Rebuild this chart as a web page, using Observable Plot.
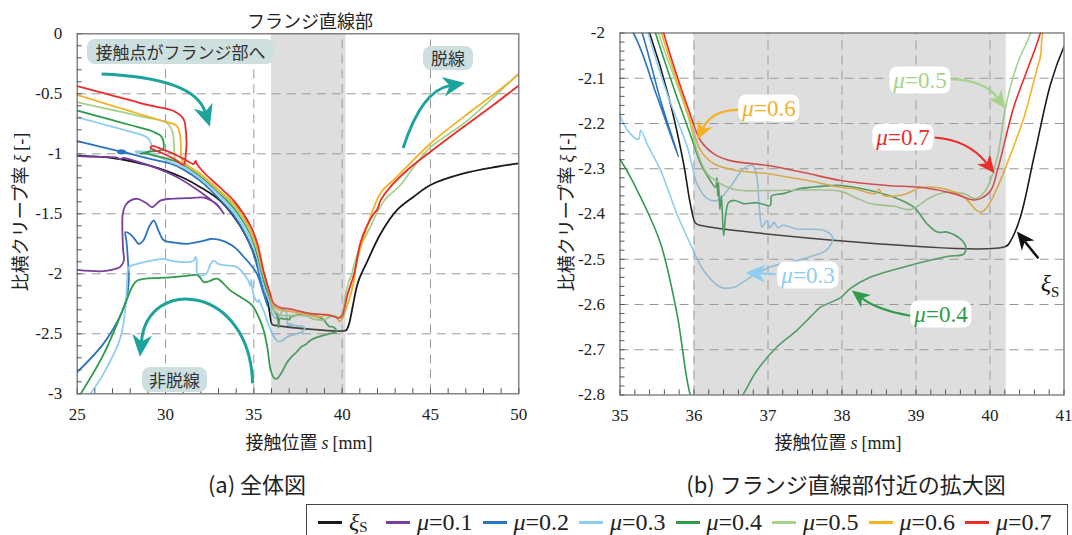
<!DOCTYPE html>
<html><head><meta charset="utf-8">
<script src="https://cdn.jsdelivr.net/npm/d3@7"></script>
<script src="https://cdn.jsdelivr.net/npm/@observablehq/plot@0.6"></script>
<style>
body{margin:0;background:#fff;}
#wrap{position:relative;width:1072px;height:535px;overflow:hidden;font-family:"Noto Sans CJK JP","Noto Sans",sans-serif;color:#222;}
#wrap svg{position:absolute;top:0;}
.abs{position:absolute;white-space:nowrap;}
.c{transform:translate(-50%,-50%);}
.ser{font-family:"Liberation Serif","Times New Roman",serif;}
.it{font-family:"Liberation Serif","Times New Roman",serif;font-style:italic;}
.note{position:absolute;background:#cddfde;border-radius:8px;font-size:17px;line-height:25px;text-align:center;color:#333;}
.mu{position:absolute;background:#fff;border-radius:8px;font-family:"Liberation Serif","Times New Roman",serif;font-size:23px;line-height:27px;text-align:center;transform:translate(-50%,-50%);padding:0 4px;}
#legend{position:absolute;left:306px;top:504px;width:762px;height:36px;border:1.5px solid #444;box-sizing:border-box;display:flex;align-items:center;padding-left:11px;font-family:"Liberation Serif","Times New Roman",serif;font-size:24px;}
.sw{display:inline-block;width:24px;height:3px;margin-right:7px;}
.li{display:flex;align-items:center;width:96.5px;flex:none;}
</style></head>
<body><div id="wrap"></div>
<script>
// ---- data: [s (mm), xi] ----
const xiS = [[25,-1.015],[26,-1.022],[27,-1.035],[28,-1.06],[29,-1.095],[30,-1.14],[31,-1.2],[32,-1.28],[33,-1.38],[33.9,-1.53],[34.5,-1.67],[35,-1.83],[35.4,-2.0],[35.66,-2.142],[35.86,-2.289],[35.95,-2.377],[36.02,-2.42],[36.08,-2.425],[40.21,-2.472],[40.28,-2.459],[40.41,-2.407],[40.6,-2.27],[40.82,-2.112],[41,-2.03],[41.41,-1.9],[42.16,-1.67],[43.1,-1.47],[44.05,-1.358],[45,-1.26],[46.88,-1.164],[48.77,-1.108],[50,-1.08]];
const mu01 = [[25,-1.02],[26,-1.025],[27.2,-1.03],[27.46,-1.045],[27.6,-1.035],[28.5,-1.07],[29.5,-1.12],[30.66,-1.195],[31.5,-1.27],[32.36,-1.36],[33.0,-1.44],[33.3,-1.5],[32.9,-1.42],[32.6,-1.39],[32.17,-1.365],[31.2,-1.37],[30.28,-1.375],[29.71,-1.39],[29.4,-1.43],[29.25,-1.445],[28.9,-1.41],[28.4,-1.375],[28.0,-1.39],[27.73,-1.43],[27.58,-1.5],[27.56,-1.65],[27.6,-1.8],[27.64,-1.89],[27.45,-1.94],[27.26,-1.955],[26.5,-1.978],[25,-1.967]];
const mu02 = [[25,-0.895],[26,-0.93],[27,-0.965],[27.3,-0.975],[27.5,-0.97],[27.75,-0.985],[27.5,-0.998],[27.3,-0.99],[27.55,-0.985],[28.5,-1.02],[29.5,-1.055],[30.3,-1.083],[31,-1.13],[32,-1.23],[33,-1.37],[33.9,-1.52],[34.8,-1.76],[35.3,-2.0],[35.55,-2.15],[35.79,-2.274],[35.5,-2.14],[35.18,-2.0],[34.8,-1.92],[34.43,-1.86],[34.0,-1.79],[33.49,-1.74],[33.0,-1.715],[32.55,-1.71],[32.0,-1.73],[31.22,-1.75],[30.5,-1.74],[29.9,-1.72],[29.6,-1.64],[29.34,-1.556],[29.1,-1.6],[28.75,-1.72],[28.49,-1.75],[28.2,-1.7],[27.9,-1.66],[27.73,-1.653],[27.78,-1.72],[27.83,-1.8],[27.9,-1.95],[27.92,-2.06],[27.8,-2.2],[27.5,-2.33],[26.5,-2.58],[25,-2.82]];
const mu03 = [[25,-0.695],[26,-0.735],[27,-0.775],[28,-0.815],[28.77,-0.848],[29.05,-0.875],[29.15,-0.903],[29.2,-0.94],[29.1,-0.975],[28.6,-0.985],[28.4,-0.99],[28.3,-0.98],[28.5,-0.978],[29.2,-1.0],[30.3,-1.07],[31,-1.11],[32,-1.21],[33,-1.34],[33.9,-1.49],[34.8,-1.71],[35.2,-1.88],[35.38,-2.0],[35.65,-2.14],[35.91,-2.252],[35.98,-2.297],[36.04,-2.333],[36.18,-2.366],[36.31,-2.37],[36.49,-2.34],[36.67,-2.30],[36.79,-2.293],[36.85,-2.319],[36.88,-2.38],[36.92,-2.429],[36.98,-2.415],[37.03,-2.43],[37.08,-2.418],[37.13,-2.43],[37.21,-2.425],[37.39,-2.433],[37.75,-2.436],[37.87,-2.451],[37.82,-2.475],[37.75,-2.484],[37.39,-2.503],[37.03,-2.517],[36.76,-2.54],[36.54,-2.562],[36.36,-2.562],[36.13,-2.525],[35.95,-2.466],[35.77,-2.40],[35.55,-2.304],[35.38,-2.25],[35.28,-2.215],[35.25,-2.235],[35.14,-2.223],[35.0,-2.182],[34.9,-2.11],[34.85,-2.05],[34.8,-2.1],[34.7,-2.06],[34.06,-1.945],[33.5,-1.93],[33.0,-1.92],[32.73,-1.89],[32.55,-1.92],[32.3,-2.0],[31.95,-2.015],[31.8,-2.0],[31.75,-1.87],[31.7,-1.86],[31.6,-1.89],[31.41,-1.90],[30.28,-1.89],[29.9,-1.875],[29.2,-1.89],[28.4,-1.917],[27.92,-1.945],[27.83,-2.056],[27.73,-2.28],[27.45,-2.53],[26.5,-2.83],[25.75,-3.0]];
const mu04 = [[25,-0.64],[26,-0.68],[27,-0.72],[28,-0.76],[29.15,-0.806],[29.5,-0.83],[29.71,-0.847],[29.85,-0.88],[29.9,-0.93],[29.85,-0.965],[29.2,-0.98],[28.7,-0.995],[28.6,-1.0],[28.8,-0.997],[29.5,-1.02],[30.3,-1.05],[31,-1.09],[32,-1.19],[33,-1.32],[33.9,-1.46],[34.8,-1.67],[35.2,-1.84],[35.48,-2.0],[35.77,-2.142],[35.98,-2.238],[36.09,-2.289],[36.22,-2.326],[36.29,-2.341],[36.31,-2.32],[36.32,-2.36],[36.33,-2.33],[36.35,-2.39],[36.37,-2.36],[36.4,-2.448],[36.43,-2.40],[36.47,-2.374],[36.55,-2.37],[36.67,-2.377],[36.85,-2.375],[37.03,-2.381],[37.05,-2.36],[37.21,-2.355],[37.4,-2.345],[37.57,-2.341],[37.98,-2.337],[38.38,-2.348],[38.7,-2.363],[38.97,-2.385],[39.15,-2.422],[39.29,-2.44],[39.42,-2.44],[39.6,-2.455],[39.67,-2.471],[39.65,-2.488],[39.42,-2.494],[38.84,-2.517],[38.38,-2.54],[38.11,-2.565],[37.98,-2.585],[37.71,-2.606],[37.57,-2.628],[37.39,-2.657],[37.12,-2.694],[36.85,-2.746],[36.67,-2.797],[36.5,-2.84],[36.35,-2.87],[36.22,-2.875],[36.1,-2.86],[35.95,-2.8],[35.77,-2.62],[35.55,-2.466],[35.32,-2.377],[35.0,-2.28],[34.81,-2.25],[34.2,-2.19],[33.68,-2.14],[32.92,-2.04],[32.5,-2.06],[32.17,-2.07],[31.95,-2.03],[31.79,-2.01],[31.0,-2.02],[30.28,-2.03],[28.4,-2.056],[28.11,-2.11],[27.64,-2.28],[26.5,-2.67],[25.2,-3.0]];
const mu05 = [[25,-0.57],[26,-0.603],[27,-0.635],[28,-0.668],[29,-0.7],[29.71,-0.722],[30.1,-0.745],[30.28,-0.778],[30.42,-0.83],[30.47,-0.9],[30.5,-1.0],[30.55,-1.04],[31,-1.08],[32,-1.18],[33,-1.31],[33.9,-1.44],[34.8,-1.65],[35.2,-1.81],[35.52,-2.0],[35.91,-2.179],[36.04,-2.26],[36.18,-2.311],[36.36,-2.333],[36.58,-2.347],[37.0,-2.348],[37.57,-2.347],[37.98,-2.35],[38.2,-2.365],[38.38,-2.377],[38.7,-2.383],[38.93,-2.39],[39.2,-2.363],[39.42,-2.352],[39.65,-2.355],[39.8,-2.366],[39.94,-2.348],[40.1,-2.274],[40.21,-2.164],[40.37,-2.068],[40.55,-2.0],[40.65,-1.94],[41.0,-1.78],[41.41,-1.664],[42.16,-1.44],[42.5,-1.37],[43.3,-1.26],[44.05,-1.11],[45,-0.945],[46.88,-0.748],[48.39,-0.553],[50,-0.33]];
const mu06 = [[25,-0.51],[26,-0.555],[27,-0.6],[28,-0.645],[29,-0.69],[30.09,-0.736],[30.5,-0.755],[30.7,-0.78],[30.82,-0.84],[30.87,-0.93],[30.88,-1.03],[31,-1.07],[32,-1.17],[33,-1.30],[33.9,-1.42],[34.8,-1.63],[35.2,-1.79],[35.56,-2.0],[35.95,-2.193],[36.09,-2.26],[36.27,-2.289],[36.58,-2.304],[37.0,-2.311],[37.5,-2.325],[37.98,-2.341],[38.16,-2.344],[38.45,-2.355],[38.5,-2.345],[38.55,-2.358],[38.84,-2.357],[39.06,-2.342],[39.38,-2.344],[39.65,-2.363],[39.8,-2.389],[39.87,-2.396],[39.96,-2.385],[40.1,-2.341],[40.23,-2.289],[40.46,-2.186],[40.64,-2.076],[40.68,-2.053],[40.71,-2.0],[40.85,-1.887],[41.41,-1.61],[42.16,-1.33],[43.11,-1.19],[45,-0.914],[46.88,-0.692],[48.39,-0.525],[50,-0.34]];
const mu07 = [[25,-0.437],[26,-0.475],[27,-0.515],[28,-0.553],[29,-0.593],[30.28,-0.633],[30.6,-0.655],[30.85,-0.68],[31.05,-0.72],[31.13,-0.778],[31.19,-0.917],[31.15,-1.0],[31.03,-1.09],[30.5,-1.045],[29.9,-1.0],[29.3,-0.965],[29.15,-0.95],[29.25,-0.935],[29.6,-0.95],[30.3,-0.99],[31.0,-1.04],[31.6,-1.085],[31.7,-1.06],[31.78,-1.085],[31.85,-1.1],[32.2,-1.16],[33,-1.27],[33.86,-1.39],[34.81,-1.60],[35.2,-1.75],[35.59,-2.0],[35.93,-2.171],[36.09,-2.238],[36.27,-2.267],[36.49,-2.282],[37.0,-2.293],[37.5,-2.309],[37.98,-2.326],[38.61,-2.337],[39.06,-2.341],[39.51,-2.355],[39.78,-2.369],[39.87,-2.366],[40.01,-2.348],[40.1,-2.304],[40.32,-2.164],[40.5,-2.083],[40.68,-2.0],[41.04,-1.74],[41.4,-1.6],[41.79,-1.5],[42.0,-1.46],[42.17,-1.39],[42.73,-1.275],[43.68,-1.137],[45,-0.983],[46.88,-0.775],[48.5,-0.6],[50,-0.43]];

const seriesNames = ["ξS","μ=0.1","μ=0.2","μ=0.3","μ=0.4","μ=0.5","μ=0.6","μ=0.7"];
const seriesData = [xiS, mu01, mu02, mu03, mu04, mu05, mu06, mu07];
const seriesColors = ["#1a1a1a","#7a3f9d","#2b74c1","#8fcdf0","#2e9b4a","#a5d38a","#f3b126","#ec2b2b"];

// axes / ticks
const xTicksA = [25,30,35,40,45,50], yTicksA = [0,-0.5,-1,-1.5,-2,-2.5,-3];
const xGridA = [30,35,40,45], yGridA = [-0.5,-1,-1.5,-2,-2.5];
const xTicksB = [35,36,37,38,39,40,41], yTicksB = [-2,-2.1,-2.2,-2.3,-2.4,-2.5,-2.6,-2.7,-2.8];
const xGridB = [36,37,38,39,40], yGridB = [-2.1,-2.2,-2.3,-2.4,-2.5,-2.6,-2.7];
const band = [{s1:36, s2:40.22}];
const teal = "#1ca39b";

function panel(o){
  const [x0,x1] = o.xd, [y0,y1] = o.yd;
  const marks = [
    Plot.ruleX(o.xg, {x: d=>d, y1: y0, y2: y1, stroke:"#999", strokeWidth:1, strokeDasharray:"9,6"}),
    Plot.ruleY(o.yg, {y: d=>d, x1: x0, x2: x1, stroke:"#999", strokeWidth:1, strokeDasharray:"9,6"}),
  ];
  seriesData.forEach((ser,i)=>{
    marks.push(Plot.line(ser, {x: d=>d[0], y: d=>d[1], stroke: seriesColors[i], strokeWidth: o.sw, curve:"catmull-rom", clip:true}));
  });
  marks.push(Plot.rect(band, {x1:"s1", x2:"s2", y1: y0, y2: y1, fill:"#9a9a9a", fillOpacity:0.33}));
  marks.push(Plot.ruleX(d3.range(x0, x1+1e-9, o.mx), {x:d=>d, y1:y0, y2:y0+o.tl[1], stroke:"#555"}));
  marks.push(Plot.ruleY(d3.range(y0, y1+1e-9, o.my), {y:d=>d, x1:x0, x2:x0+o.tl[0], stroke:"#555"}));
  marks.push(Plot.frame({stroke:"#666", strokeWidth:1.2}));
  return Plot.plot({
    width:o.w, height:460, marginLeft:o.ml, marginRight:o.mr, marginTop:o.mt, marginBottom:o.mb,
    x:{domain:o.xd, ticks:o.xt, tickFormat:d=>String(d), tickSize:0, tickPadding:14, label:null},
    y:{domain:o.yd, ticks:o.yt, tickFormat:d=>String(d), tickSize:0, tickPadding:15, label:null},
    style:{fontFamily:"'Liberation Serif', 'Times New Roman', serif", fontSize:"17px", color:"#222", background:"transparent", overflow:"visible"},
    marks
  });
}

function drawArrows(svg, arrows){
  const X = svg.scale("x"), Y = svg.scale("y");
  const g = d3.select(svg).append("g");
  for (const a of arrows){
    const p = a.pts.map(([s,v]) => [X.apply(s), Y.apply(v)]);
    const tip = p[p.length-1], prev = p[p.length-2];
    let dx = tip[0]-prev[0], dy = tip[1]-prev[1];
    const len = Math.hypot(dx,dy); dx/=len; dy/=len;
    const L = a.head, W = a.head*0.45;
    const base = [tip[0]-dx*L, tip[1]-dy*L];
    const notch = [tip[0]-dx*L*0.7, tip[1]-dy*L*0.7];
    const left = [base[0]-dy*W, base[1]+dx*W], right = [base[0]+dy*W, base[1]-dx*W];
    const q = p.slice(); q[q.length-1] = notch;
    let d = "M" + q[0];
    if (q.length===2) d += "L" + q[1];
    else if (q.length===3) d += "Q" + q[1] + " " + q[2];
    else d += "C" + q[1] + " " + q[2] + " " + q[3];
    g.append("path").attr("d", d).attr("fill","none").attr("stroke",a.color).attr("stroke-width",a.width);
    g.append("path").attr("d","M"+tip+"L"+left+"L"+notch+"L"+right+"Z").attr("fill",a.color);
  }
}

const wrap = document.getElementById("wrap");
const A = panel({w:530, ml:76.7, mr:11.7, mt:33.3, mb:66.7, xd:[25,50], yd:[-3,0], xt:xTicksA, yt:yTicksA, xg:xGridA, yg:yGridA, mx:1, my:0.1, tl:[0.28,0.042], sw:1.8});
A.style.left = "0px";
wrap.appendChild(A);
const B = panel({w:542, ml:89.5, mr:8.5, mt:32.5, mb:65.5, xd:[35,41], yd:[-2.8,-2], xt:xTicksB, yt:yTicksB, xg:xGridB, yg:yGridB, mx:0.2, my:0.02, tl:[0.068,0.011], sw:1.6});
B.style.left = "530px";
wrap.appendChild(B);

drawArrows(A, [
  {pts:[[26.41,-0.339],[31.65,-0.37],[32.54,-0.778]], color:teal, width:3, head:22},
  {pts:[[43.48,-0.956],[44.53,-0.477],[46.98,-0.414]], color:teal, width:3, head:22},
  {pts:[[34.96,-2.917],[34.81,-2.097],[29.04,-2.014],[28.58,-2.695]], color:teal, width:3, head:22}
]);
drawArrows(B, [
  {pts:[[36.61,-2.171],[36.25,-2.171],[36.05,-2.237]], color:seriesColors[6], width:2.2, head:18},
  {pts:[[39.47,-2.103],[39.94,-2.105],[40.21,-2.168]], color:seriesColors[5], width:2.2, head:18},
  {pts:[[39.26,-2.232],[39.71,-2.237],[40.07,-2.311]], color:seriesColors[7], width:2.2, head:18},
  {pts:[[37.11,-2.534],[36.70,-2.531]], color:seriesColors[3], width:2.2, head:20},
  {pts:[[38.93,-2.626],[38.48,-2.613],[38.14,-2.570]], color:seriesColors[4], width:2.2, head:18},
  {pts:[[40.66,-2.499],[40.37,-2.440]], color:"#111", width:2.5, head:18}
]);

const html = `
<div class="abs c" style="left:310px;top:20px;font-size:18px;">フランジ直線部</div>
<div class="note" style="left:87px;top:39px;width:187px;height:25px;">接触点がフランジ部へ</div>
<div class="note" style="left:423px;top:46px;width:50px;height:24px;line-height:24px;">脱線</div>
<div class="note" style="left:142px;top:367px;width:65px;height:25px;">非脱線</div>
<div class="abs c" style="left:19px;top:212px;transform:translate(-50%,-50%) rotate(-90deg);font-size:18px;">比横クリープ率 <span class="it">ξ</span> <span class="ser">[-]</span></div>
<div class="abs c" style="left:565px;top:212px;transform:translate(-50%,-50%) rotate(-90deg);font-size:18px;">比横クリープ率 <span class="it">ξ</span> <span class="ser">[-]</span></div>
<div class="abs c" style="left:309px;top:441px;font-size:18px;">接触位置 <span class="it">s</span> <span class="ser">[mm]</span></div>
<div class="abs c" style="left:838px;top:441px;font-size:18px;">接触位置 <span class="it">s</span> <span class="ser">[mm]</span></div>
<div class="abs c" style="left:257px;top:483px;font-size:22px;">(a) 全体図</div>
<div class="abs c" style="left:846px;top:483px;font-size:22px;">(b) フランジ直線部付近の拡大図</div>
<div class="mu" style="left:769px;top:108px;color:${seriesColors[6]}"><span class="it">μ</span>=0.6</div>
<div class="mu" style="left:920px;top:80px;color:${seriesColors[5]}"><span class="it">μ</span>=0.5</div>
<div class="mu" style="left:903px;top:137px;color:${seriesColors[7]}"><span class="it">μ</span>=0.7</div>
<div class="mu" style="left:808px;top:275px;color:${seriesColors[3]}"><span class="it">μ</span>=0.3</div>
<div class="mu" style="left:941px;top:314px;color:${seriesColors[4]}"><span class="it">μ</span>=0.4</div>
<div class="abs c ser" style="left:1050px;top:283px;font-size:24px;color:#111;"><span class="it">ξ</span><span style="font-size:15px;position:relative;top:6px;">S</span></div>
`;
wrap.insertAdjacentHTML("beforeend", html);

const leg = document.createElement("div");
leg.id = "legend";
leg.innerHTML = seriesNames.map((n,i)=>{
  const label = i===0 ? `<span class="it">ξ</span><span style="font-size:15px;position:relative;top:5px;">S</span>` : `<span class="it">μ</span>=${n.slice(2)}`;
  const w = i===0 ? "width:68px;" : "";
  return `<span class="li" style="${w}"><span class="sw" style="background:${seriesColors[i]}"></span>${label}</span>`;
}).join("");
wrap.appendChild(leg);
</script></body></html>
